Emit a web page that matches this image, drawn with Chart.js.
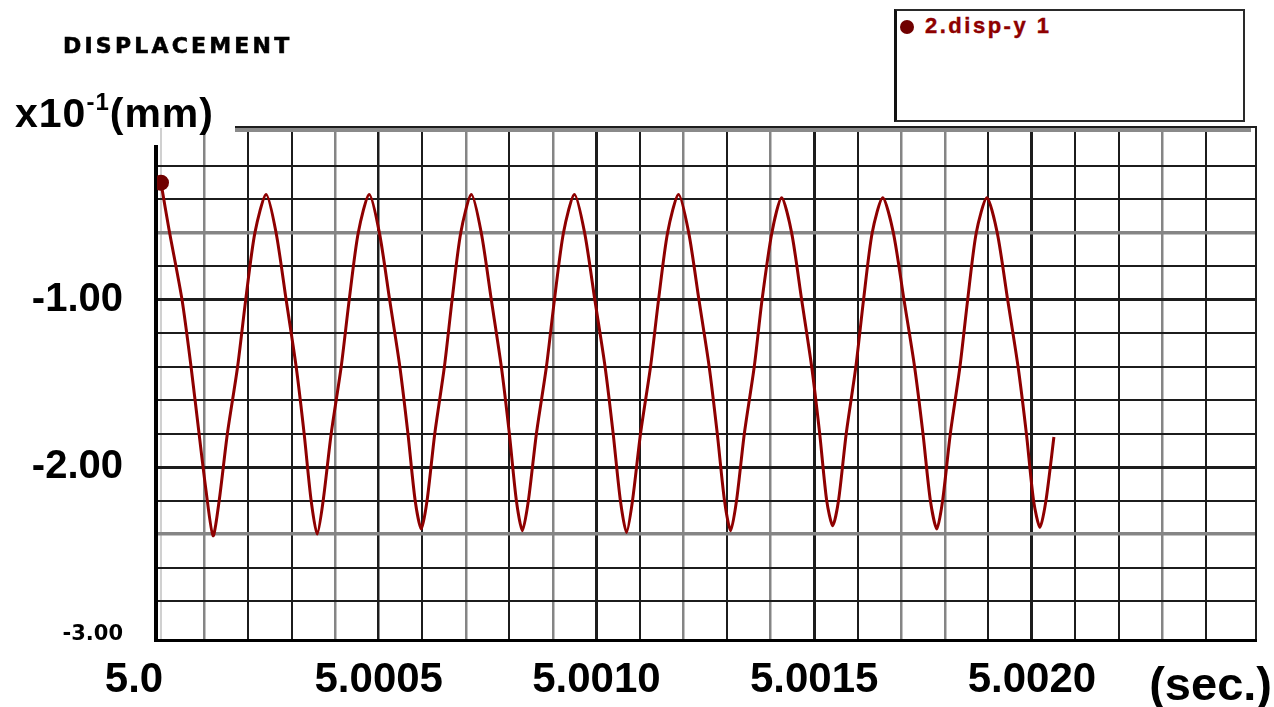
<!DOCTYPE html>
<html>
<head>
<meta charset="utf-8">
<script src="https://cdn.jsdelivr.net/npm/chart.js@4.4.1/dist/chart.umd.min.js"></script>
<style>
  html, body { margin: 0; padding: 0; background: #fff; }
  #wrap { position: relative; width: 1274px; height: 707px; overflow: hidden; }
  #chart { position: absolute; left: 0; top: 0; }
  .txt { position: absolute; color: #000; white-space: nowrap; }
  #title { left: 63px; top: 35px; font: bold 22px 'DejaVu Sans', sans-serif; line-height: 22px;
           letter-spacing: 3.2px; -webkit-text-stroke: 0.6px #000; }
  #unit { left: 15px; top: 93px; font: bold 41px 'Liberation Sans', Arial, sans-serif; line-height: 41px; letter-spacing: 1px; }
  #unit sup { font-size: 24px; vertical-align: baseline; position: relative; top: -17px; }
  #xunit { right: 2px; top: 660px; font: bold 47px 'Liberation Sans', Arial, sans-serif; line-height: 47px; }
  #legend { position: absolute; left: 894px; top: 9px; width: 346px; height: 109px;
            border: 2px solid #2a2a2a; border-left: 3px solid #111; background: #fff; }
  #legend .dot { position: absolute; left: 3px; top: 9px; width: 14px; height: 14px; border-radius: 50%; }
  #legend .lbl { position: absolute; left: 28px; top: 2px; font: bold 22px 'Liberation Sans', Arial, sans-serif;
                 line-height: 26px; letter-spacing: 2.5px; -webkit-text-stroke: 0.4px #8e0000; }
</style>
</head>
<body>
<div id="wrap">
  <canvas id="chart" width="1274" height="707"></canvas>
  <div class="txt" id="title">DISPLACEMENT</div>
  <div class="txt" id="unit">x10<sup>-1</sup>(mm)</div>
  <div class="txt" id="xunit">(sec.)</div>
  <div id="legend"></div>
</div>
<script>
// 時刻 (sec.)
var timeSec = [
  5.0000000, 5.0000184, 5.0000483, 5.0000690, 5.0000874, 5.0001034, 5.0001195,
  5.0001336, 5.0001524, 5.0001759, 5.0001945, 5.0002156, 5.0002414,
  5.0002644, 5.0002874, 5.0003104, 5.0003287, 5.0003448, 5.0003586,
  5.0003724, 5.0003908, 5.0004138, 5.0004322, 5.0004529, 5.0004782,
  5.0005016, 5.0005251, 5.0005485, 5.0005671, 5.0005837, 5.0005977,
  5.0006110, 5.0006287, 5.0006508, 5.0006685, 5.0006883, 5.0007127,
  5.0007356, 5.0007586, 5.0007816, 5.0008000, 5.0008161, 5.0008299,
  5.0008437, 5.0008621, 5.0008851, 5.0009035, 5.0009242, 5.0009494,
  5.0009729, 5.0009963, 5.0010198, 5.0010384, 5.0010550, 5.0010690,
  5.0010828, 5.0011012, 5.0011242, 5.0011426, 5.0011633, 5.0011885,
  5.0012120, 5.0012354, 5.0012589, 5.0012775, 5.0012941, 5.0013081,
  5.0013217, 5.0013396, 5.0013624, 5.0013803, 5.0014028, 5.0014253,
  5.0014483, 5.0014713, 5.0014943, 5.0015127, 5.0015288, 5.0015426,
  5.0015559, 5.0015736, 5.0015957, 5.0016134, 5.0016332, 5.0016575,
  5.0016819, 5.0017063, 5.0017306, 5.0017499, 5.0017669, 5.0017817,
  5.0017950, 5.0018127, 5.0018348, 5.0018525, 5.0018722, 5.0018966,
  5.0019205, 5.0019444, 5.0019683, 5.0019874, 5.0020039, 5.0020185,
  5.0020323, 5.0020506
];

// 変位 (x10^-1 mm)
var dispY = [
  -0.30, -0.58, -1.00, -1.40, -1.80, -2.14, -2.41,
  -2.20, -1.80, -1.40, -1.00, -0.60, -0.37,
  -0.60, -1.00, -1.40, -1.80, -2.20, -2.40,
  -2.20, -1.80, -1.40, -1.00, -0.60, -0.37,
  -0.60, -1.00, -1.40, -1.80, -2.20, -2.37,
  -2.20, -1.80, -1.40, -1.00, -0.60, -0.37,
  -0.60, -1.00, -1.40, -1.80, -2.20, -2.38,
  -2.20, -1.80, -1.40, -1.00, -0.60, -0.37,
  -0.60, -1.00, -1.40, -1.80, -2.20, -2.39,
  -2.20, -1.80, -1.40, -1.00, -0.60, -0.37,
  -0.60, -1.00, -1.40, -1.80, -2.20, -2.38,
  -2.20, -1.80, -1.40, -1.00, -0.60, -0.39,
  -0.60, -1.00, -1.40, -1.80, -2.20, -2.35,
  -2.20, -1.80, -1.40, -1.00, -0.60, -0.39,
  -0.60, -1.00, -1.40, -1.80, -2.20, -2.37,
  -2.20, -1.80, -1.40, -1.00, -0.60, -0.39,
  -0.60, -1.00, -1.40, -1.80, -2.20, -2.36,
  -2.20, -1.82
];

var SERIES_LABEL = '2.disp-y 1';

// 目盛り
var xTicks = [
  5.0000, 5.0001, 5.0002, 5.0003, 5.0004, 5.0005, 5.0006, 5.0007, 5.0008, 5.0009,
  5.0010, 5.0011, 5.0012, 5.0013, 5.0014, 5.0015, 5.0016, 5.0017, 5.0018, 5.0019,
  5.0020, 5.0021, 5.0022, 5.0023, 5.0024
];
var xTickLabels = [
  '5.0', '', '', '', '', '5.0005', '', '', '', '',
  '5.0010', '', '', '', '', '5.0015', '', '', '', '',
  '5.0020', '', '', '', ''
];
var yTicks = [
  -3.0, -2.8, -2.6, -2.4, -2.2, -2.0, -1.8, -1.6, -1.4, -1.2,
  -1.0, -0.8, -0.6, -0.4, -0.2, 0.0
];
var yTickLabels = [
  '-3.00', '', '', '', '', '-2.00', '', '', '', '',
  '-1.00', '', '', '', '', ''
];

// 見た目
var LINE_COLOR = '#8e0000';
var MARKER_COLOR = '#700000';
var GRID_DARK = '#1c1c1c';
var GRID_GRAY = '#858585';
var GRID_LIGHT = '#d0d0d0';
var X_GRAY_IDX = [1, 4, 7, 9, 12, 14, 17, 18, 23];
var X_HEAVY_IDX = [5, 10, 15, 20];
var Y_GRAY_IDX = [3, 12];
var Y_HEAVY_IDX = [5, 10];
var FONT_FAMILY = "'Liberation Sans', Arial, sans-serif";
var FIRST_LABEL_SHIFT = 27; // 「5.0」は左寄せ気味に描かれている

function xGridColor(ctx) {
  var i = ctx.index;
  if (i === 0) return GRID_LIGHT;
  if (X_GRAY_IDX.indexOf(i) >= 0) return GRID_GRAY;
  return GRID_DARK;
}
function xGridWidth(ctx) {
  var i = ctx.index;
  if (X_HEAVY_IDX.indexOf(i) >= 0) return i === 5 ? 2.5 : 3;
  if (X_GRAY_IDX.indexOf(i) >= 0) return 2.5;
  return 2;
}
function yGridColor(ctx) {
  var i = ctx.index;
  if (i === 0 || i === yTicks.length - 1) return 'rgba(0,0,0,0)';
  if (Y_GRAY_IDX.indexOf(i) >= 0) return GRID_GRAY;
  return GRID_DARK;
}
function yGridWidth(ctx) {
  var i = ctx.index;
  if (Y_HEAVY_IDX.indexOf(i) >= 0) return 3;
  if (Y_GRAY_IDX.indexOf(i) >= 0) return 3.5;
  return 2;
}

// 枠線
var framePlugin = {
  id: 'frame',
  beforeDraw: function(chart) {
    // 最初の目盛りラベルだけ左にずらす
    var s = chart.scales.x;
    if (!s || !s.getLabelItems) return;
    var items = s.getLabelItems(chart.chartArea);
    if (items && items[0] && !items[0]._shifted && items[0].options && items[0].options.translation) {
      items[0].options.translation[0] -= FIRST_LABEL_SHIFT;
      items[0]._shifted = true;
    }
  },
  beforeDatasetsDraw: function(chart) {
    var a = chart.chartArea;
    var ctx = chart.ctx;
    var topStart = a.left + 78;
    ctx.save();
    ctx.fillStyle = '#8a8a8a';
    ctx.fillRect(topStart, a.top, a.right - 5 - topStart, 4);
    ctx.fillStyle = '#1e1e1e';
    ctx.fillRect(topStart, a.top - 2, a.right - topStart, 2);
    ctx.fillRect(a.right - 1, a.top - 2, 2, a.bottom - a.top + 4);
    ctx.fillStyle = '#000';
    ctx.fillRect(a.left - 2, a.bottom - 1, a.right - a.left + 3, 3);
    ctx.fillRect(a.left - 3, a.top + 17, 4, a.bottom - a.top - 15);
    ctx.restore();
  }
};

var points = timeSec.map(function(t, i) {
  return { x: t, y: dispY[i] };
});

var chart = new Chart(document.getElementById('chart'), {
  type: 'line',
  data: {
    datasets: [{
      label: SERIES_LABEL,
      data: points,
      borderColor: LINE_COLOR,
      borderWidth: 3,
      tension: 0.25,
      fill: false,
      pointRadius: function(ctx) { return ctx.dataIndex === 0 ? 8 : 0; },
      pointBackgroundColor: MARKER_COLOR,
      pointBorderWidth: 0
    }]
  },
  options: {
    responsive: false,
    animation: false,
    layout: { padding: { top: 128, right: 18, left: 0, bottom: 0 } },
    plugins: {
      legend: { display: false },
      tooltip: { enabled: false }
    },
    scales: {
      x: {
        type: 'linear',
        min: 4.9999908,
        max: 5.0025147,
        border: { display: false },
        afterBuildTicks: function(scale) {
          scale.ticks = xTicks.map(function(v) { return { value: v }; });
        },
        afterFit: function(scale) { scale.height = 67; },
        grid: { drawTicks: false, color: xGridColor, lineWidth: xGridWidth },
        ticks: {
          autoSkip: false,
          maxRotation: 0,
          padding: 15,
          color: '#000',
          font: { family: FONT_FAMILY, weight: 'bold', size: 42 },
          callback: function(value, index) { return xTickLabels[index]; }
        }
      },
      y: {
        min: -3.033,
        max: 0.027,
        border: { display: false },
        afterBuildTicks: function(scale) {
          scale.ticks = yTicks.map(function(v) { return { value: v }; });
        },
        afterFit: function(scale) { scale.width = 157; },
        grid: { drawTicks: false, color: yGridColor, lineWidth: yGridWidth },
        ticks: {
          autoSkip: false,
          padding: 34,
          color: '#000',
          font: function(ctx) {
            if (ctx.index === 0) return { family: "'DejaVu Sans', sans-serif", weight: 'bold', size: 21 };
            return { family: FONT_FAMILY, weight: 'bold', size: 40 };
          },
          callback: function(value, index) { return yTickLabels[index]; }
        }
      }
    }
  },
  plugins: [framePlugin]
});

// 凡例
(function() {
  var box = document.getElementById('legend');
  chart.data.datasets.forEach(function(ds) {
    var dot = document.createElement('span');
    dot.className = 'dot';
    dot.style.background = ds.pointBackgroundColor;
    var lbl = document.createElement('span');
    lbl.className = 'lbl';
    lbl.style.color = ds.borderColor;
    lbl.textContent = ds.label;
    box.appendChild(dot);
    box.appendChild(lbl);
  });
})();
</script>
</body>
</html>
